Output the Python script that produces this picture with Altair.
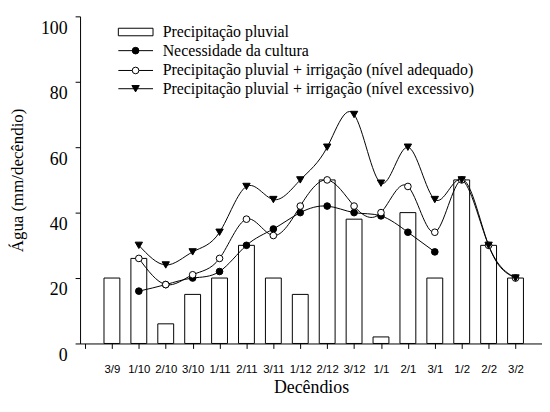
import json
import altair as alt
import pandas as pd

cats = ['3/9', '1/10', '2/10', '3/10', '1/11', '2/11', '3/11', '1/12',
        '2/12', '3/12', '1/1', '2/1', '3/1', '1/2', '2/2', '3/2']
precip = [20, 26, 6, 15, 20, 30, 20, 15, 50, 38, 2, 40, 20, 50, 30, 20]
necess = [16, 18, 20, 22, 30, 35, 40, 42, 40, 39, 34, 28]          # 1/10 .. 3/1
adequado = [26, 18, 21, 26, 38, 33, 42, 50, 42, 40, 48, 34, 50, 30, 20]  # 1/10 .. 3/2
excessivo = [30, 24, 28, 34, 48, 44, 50, 60, 70, 49, 60, 44, 50, 30, 20]  # 1/10 .. 3/2

legend_labels = ['Precipitação pluvial', 'Necessidade da cultura',
                 'Precipitação pluvial + irrigação (nível adequado)',
                 'Precipitação pluvial + irrigação (nível excessivo)']

SERIF = "Times New Roman"
SANS = "Arial"

df_bar = pd.DataFrame({'i': list(range(len(cats))), 'cat': cats, 'v': precip})
df_nec = pd.DataFrame({'i': list(range(1, 1 + len(necess))), 'v': necess})
df_ade = pd.DataFrame({'i': list(range(1, 1 + len(adequado))), 'v': adequado})
df_exc = pd.DataFrame({'i': list(range(1, 1 + len(excessivo))), 'v': excessivo})

label_expr = "datum.value < 0 ? '' : " + json.dumps(cats) + "[datum.value]"

xscale = alt.Scale(domain=[-1, 15.8], nice=False, zero=False)
yscale = alt.Scale(domain=[0, 100], nice=False)
xaxis = alt.Axis(values=list(range(-1, 16)), labelExpr=label_expr,
                 labelOverlap=False, title='Decêndios',
                 labelFont=SANS, labelFontSize=11.5, labelPadding=15,
                 titleBaseline='alphabetic', titleY=49, titleFontSize=18)
yaxis = alt.Axis(values=[0, 20, 40, 60, 80, 100], title='Água (mm/decêndio)',
                 labelFontSize=18, labelBaseline='top', labelPadding=8, labelOffset=3,
                 titleFontSize=17, titleX=-54)

interp = 'natural'

def enc(ch):
    return ch.encode(x=alt.X('i:Q', scale=xscale, axis=xaxis),
                     y=alt.Y('v:Q', scale=yscale, axis=yaxis))

bars = enc(alt.Chart(df_bar).mark_bar(size=16, fill='white', stroke='black',
                                      strokeWidth=1))

def series(df, filled, shape, size):
    line = enc(alt.Chart(df).mark_line(color='black', strokeWidth=1,
                                       interpolate=interp))
    pts = enc(alt.Chart(df).mark_point(shape=shape, size=size, filled=True,
                                       fill='black' if filled else 'white',
                                       stroke='black', strokeWidth=1, opacity=1))
    return line, pts

l_nec, p_nec = series(df_nec, True, 'circle', 45)
l_ade, p_ade = series(df_ade, False, 'circle', 45)
l_exc, p_exc = series(df_exc, True, 'triangle-down', 55)

# legend (drawn inside plot, top-left)
one = pd.DataFrame({'k': [0]})
leg_layers = []
rows_y = [15.8, 34.6, 54.6, 73.0]
sym_x1, sym_x2, sym_xc, txt_x = 38.6, 73.6, 56.0, 83.3
leg_layers.append(alt.Chart(one).mark_rect(fill='white', stroke='black', strokeWidth=1).encode(
    x=alt.value(sym_x1), x2=alt.value(sym_x2),
    y=alt.value(rows_y[0] - 3.8), y2=alt.value(rows_y[0] + 3.8)))
marker_specs = [('circle', 'black', 45), ('circle', 'white', 45), ('triangle-down', 'black', 55)]
for r, (shape, fill, size) in zip(rows_y[1:], marker_specs):
    leg_layers.append(alt.Chart(one).mark_rule(color='black', strokeWidth=1).encode(
        x=alt.value(sym_x1), x2=alt.value(sym_x2), y=alt.value(r)))
    leg_layers.append(alt.Chart(one).mark_point(shape=shape, size=size, filled=True,
                                                fill=fill, stroke='black', strokeWidth=1,
                                                opacity=1).encode(
        x=alt.value(sym_xc), y=alt.value(r)))
for r, lab in zip(rows_y, legend_labels):
    leg_layers.append(alt.Chart(one).mark_text(text=lab, fontSize=16, font=SERIF,
                                               align='left', baseline='middle',
                                               color='black').encode(
        x=alt.value(txt_x), y=alt.value(r)))

chart = alt.layer(bars, l_nec, l_ade, l_exc, p_nec, p_ade, p_exc, *leg_layers).properties(
    width=466, height=330,
    background='white',
    autosize=alt.AutoSizeParams(type='none'),
    padding={'left': 72.7, 'top': 6.7, 'right': 0, 'bottom': 56},
).configure(
    font=SERIF,
).configure_view(
    stroke=None
).configure_axis(
    grid=False, tickSize=5, labelFont=SERIF, titleFont=SERIF,
    titleFontWeight='normal', labelColor='black', titleColor='black',
    tickColor='black', domainColor='black', labelOverlap=False, labelFlush=False
)

chart.save("out.html", embed_options={"renderer": "svg", "actions": False})
